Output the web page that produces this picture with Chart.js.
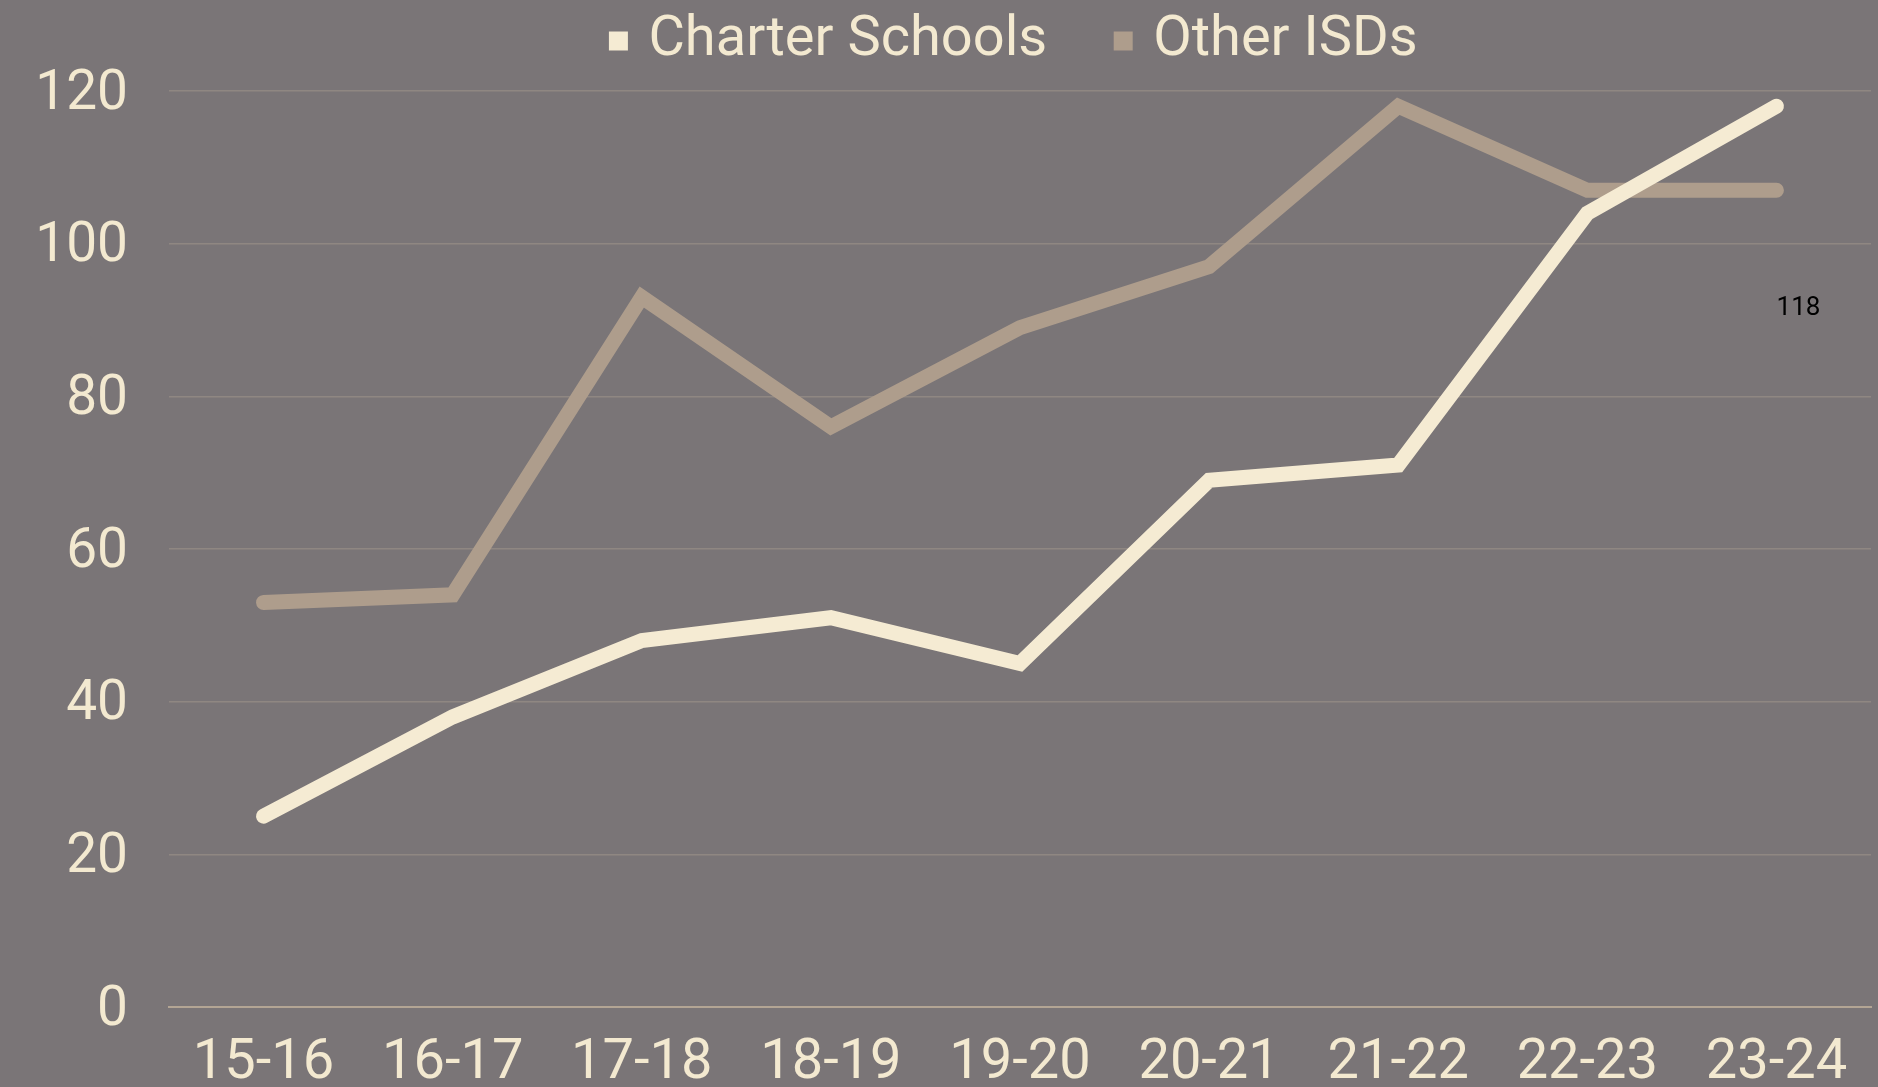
<!DOCTYPE html>
<html>
<head>
<meta charset="utf-8">
<script src="https://cdn.jsdelivr.net/npm/chart.js@4.4.1/dist/chart.umd.min.js"></script>
<style>
  html, body { margin: 0; padding: 0; background: #7a7577; }
  #wrap { width: 1878px; height: 1087px; }
</style>
</head>
<body>
<div id="wrap"><canvas id="myChart" width="1878" height="1087"></canvas></div>
<script>
var years = ["15-16", "16-17", "17-18", "18-19", "19-20", "20-21", "21-22", "22-23", "23-24"];
var charterSchools = [25, 38, 48, 51, 45, 69, 71, 104, 118];
var otherISDs = [53, 54, 93, 76, 89, 97, 118, 107, 107];
var yTicks = [0, 20, 40, 60, 80, 100, 120];
var lastLabel = "118";

var cream = '#f5ebd3';
var tan = '#ae9d8c';
var textColor = '#f3e9d0';

var tweaks = {
  id: 'tweaks',
  afterLayout: function(chart) {
    // legend is centred over the plot area, not the whole canvas
    var lg = chart.legend;
    lg.left = chart.chartArea.left - 3;
    lg.right = chart.chartArea.right - 3;
    lg.top = -61;
    lg.bottom = lg.top + lg.height;
  },
  // stray value label seen to the right of the last point
  afterDatasetsDraw: function(chart) {
    var pt = chart.getDatasetMeta(0).data[years.length - 1];
    var ctx = chart.ctx;
    ctx.save();
    ctx.font = '26px Roboto';
    ctx.fillStyle = '#000';
    ctx.textAlign = 'center';
    ctx.textBaseline = 'middle';
    ctx.fillText(lastLabel, pt.x + 22, pt.y + 202);
    ctx.restore();
  }
};

var ctx = document.getElementById("myChart");
var myLineChart = new Chart(ctx, {
  type: 'line',
  data: {
    labels: years,
    datasets: [{
      label: "Charter Schools",
      data: charterSchools,
      borderColor: cream,
      backgroundColor: cream,
      borderWidth: 15,
      borderCapStyle: 'round',
      borderJoinStyle: 'miter',
      pointRadius: 0,
      tension: 0
    }, {
      label: "Other ISDs",
      data: otherISDs,
      borderColor: tan,
      backgroundColor: tan,
      borderWidth: 15,
      borderCapStyle: 'round',
      borderJoinStyle: 'miter',
      pointRadius: 0,
      tension: 0
    }]
  },
  options: {
    responsive: false,
    animation: false,
    layout: {
      padding: { left: 0, right: 7, top: -74, bottom: 0 }
    },
    plugins: {
      tooltip: { enabled: false },
      legend: {
        position: 'top',
        labels: {
          color: textColor,
          font: { family: 'Roboto', size: 56 },
          usePointStyle: true,
          boxWidth: 4,
          boxHeight: 19,
          padding: 74,
          generateLabels: function(chart) {
            return chart.data.datasets.map(function(ds, i) {
              return {
                text: ds.label,
                fillStyle: ds.borderColor,
                strokeStyle: ds.borderColor,
                lineWidth: 0,
                pointStyle: 'rect',
                fontColor: textColor,
                datasetIndex: i
              };
            });
          }
        }
      }
    },
    scales: {
      x: {
        offset: true,
        grid: { display: false, drawTicks: false },
        border: { display: true, color: '#b3a594', width: 2 },
        ticks: {
          color: textColor,
          font: { family: 'Roboto', size: 56 },
          padding: 23,
          maxRotation: 0,
          autoSkip: false
        },
        afterFit: function(scale) { scale.height = 80; }
      },
      y: {
        min: 0,
        max: 120,
        grid: { color: '#8f8782', lineWidth: 1.5, drawTicks: false },
        border: { display: false },
        afterBuildTicks: function(scale) {
          scale.ticks = yTicks.map(function(v) { return { value: v }; });
        },
        ticks: {
          color: textColor,
          font: { family: 'Roboto', size: 55 },
          padding: 41,
          labelOffset: 4
        },
        afterFit: function(scale) {
          scale.width = 169;
          scale.paddingTop = 91;
        }
      }
    }
  },
  plugins: [tweaks]
});
</script>
</body>
</html>
